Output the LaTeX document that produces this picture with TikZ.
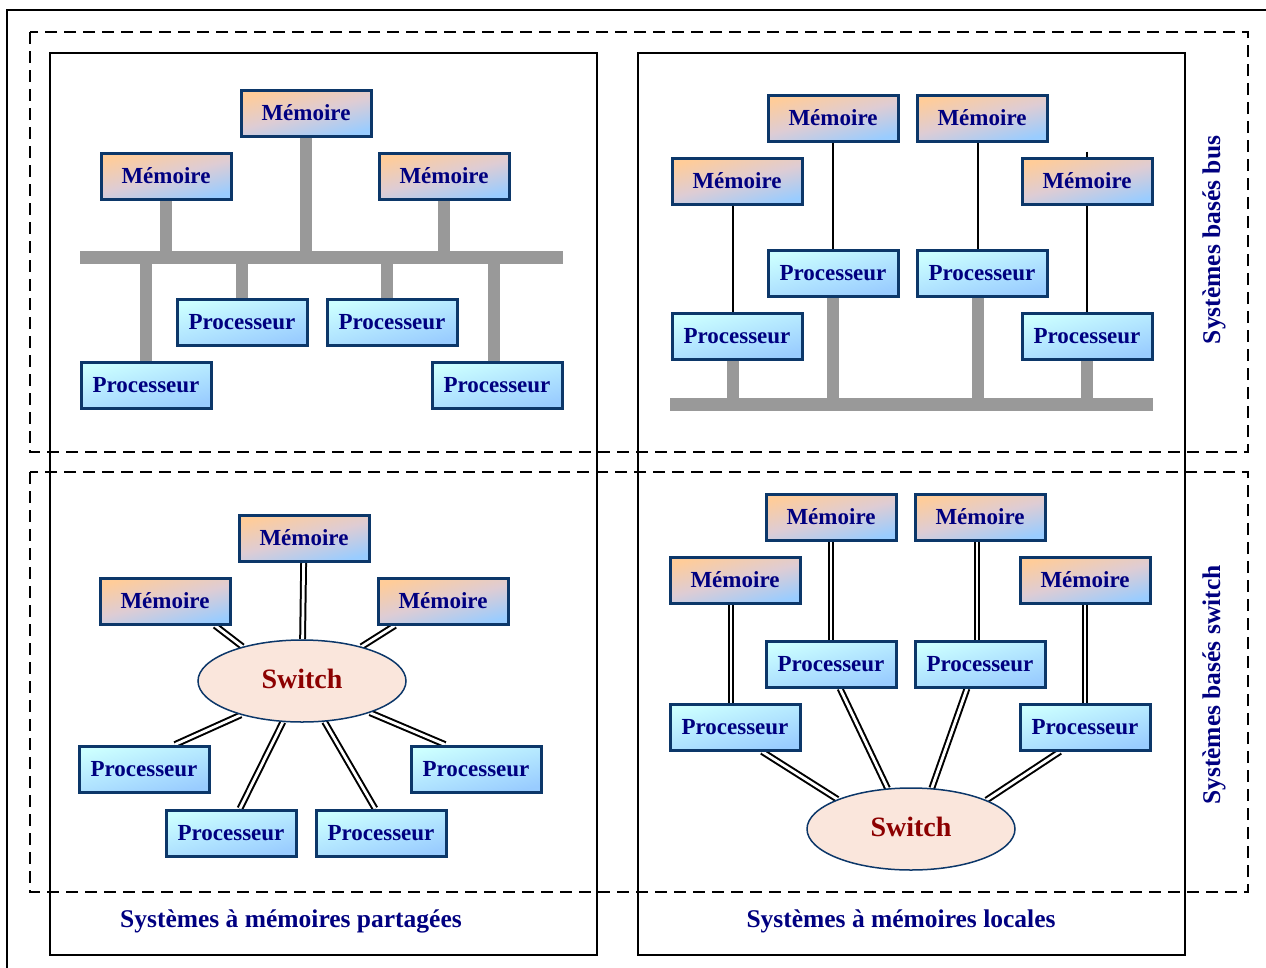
\documentclass[tikz,border=0pt]{standalone}
\usepackage{fontspec}
\setmainfont{Liberation Serif}
\usetikzlibrary{shapes.geometric,backgrounds}

\definecolor{boxblue}{RGB}{12,55,105}
\definecolor{txtnavy}{RGB}{0,0,128}
\definecolor{memtop}{RGB}{255,204,153}
\definecolor{memmid}{RGB}{222,204,212}
\definecolor{procbtm}{RGB}{153,204,255}
\definecolor{proctop}{RGB}{204,255,255}
\definecolor{busgray}{RGB}{153,153,153}
\definecolor{swfill}{RGB}{250,230,220}
\definecolor{swred}{RGB}{140,0,0}

\tikzset{
  unit/.style={draw=boxblue, line width=3pt, minimum width=130pt, minimum height=46pt,
    inner sep=0pt, text=txtnavy, font=\fontsize{23}{27}\selectfont\bfseries},
  mem/.style={unit, top color=memtop, bottom color=procbtm, middle color=memmid, shading angle=14},
  proc/.style={unit, top color=proctop, bottom color=procbtm, shading angle=14},
  switchnode/.style={ellipse, draw=boxblue, line width=1.5pt, fill=swfill,
    minimum width=208pt, minimum height=82pt, inner sep=0pt, text=swred,
    font=\fontsize{28}{32}\selectfont\bfseries},
  busline/.style={busgray, line width=13pt},
  stub/.style={busgray, line width=12pt},
  wire/.style={black, line width=2.2pt},
  dblwire/.style={draw=black, line width=2pt, double=white, double distance=2.8pt},
  frame/.style={line width=2pt},
  dashframe/.style={line width=1.8pt, dash pattern=on 12pt off 7pt},
  caption/.style={text=txtnavy, font=\fontsize{25.5}{30}\selectfont\bfseries, inner sep=0pt}
}

\begin{document}
\begin{tikzpicture}[x=1pt,y=-1pt]
\useasboundingbox (0,0) rectangle (1266,967);

% outer frame (runs off the page on the right and bottom)
\draw[frame] (7,975) -- (7,10) -- (1275,10);

% dashed groupings
\draw[dashframe] (30,32) rectangle (1248,452);
\draw[dashframe] (30,472) rectangle (1248,892);

% the two panels
\draw[frame] (50,53) rectangle (597,955);
\draw[frame] (638,53) rectangle (1185,955);

% ---------- shared memory, bus ----------
\node[mem] (a1) at (306,113) {Mémoire};
\node[mem] (a2) at (166,176) {Mémoire};
\node[mem] (a3) at (444,176) {Mémoire};
\node[proc] (a4) at (242,322) {Processeur};
\node[proc] (a5) at (392,322) {Processeur};
\node[proc] (a6) at (146,385) {Processeur};
\node[proc] (a7) at (497,385) {Processeur};
\coordinate (aL) at (80,257);
\coordinate (aR) at (563,257);
\path ([xshift=-5pt]a5.north) coordinate (a5s)
      ([xshift=-3pt]a7.north) coordinate (a7s);

% ---------- local memory, bus ----------
\node[mem] (b1) at (833,118) {Mémoire};
\node[mem] (b2) at (982,118) {Mémoire};
\node[mem] (b3) at (737,181) {Mémoire};
\node[mem] (b4) at (1087,181) {Mémoire};
\node[proc] (b5) at (833,273) {Processeur};
\node[proc] (b6) at (982,273) {Processeur};
\node[proc] (b7) at (737,336) {Processeur};
\node[proc] (b8) at (1087,336) {Processeur};
\coordinate (bL) at (670,404);
\coordinate (bR) at (1153,404);
\path ([xshift=-4pt]b3.center) coordinate (b3s)
      ([xshift=-4pt]b7.center) coordinate (b7s)
      ([xshift=-4pt]b2.center) coordinate (b2s)
      ([xshift=-4pt]b6.center) coordinate (b6s)
      ([yshift=5pt]b4.north) coordinate (b4s);

% ---------- shared memory, switch ----------
\node[mem] (c1) at (304,538) {Mémoire};
\node[mem] (c2) at (165,601) {Mémoire};
\node[mem] (c3) at (443,601) {Mémoire};
\node[switchnode] (s1) at (302,681) {\raisebox{4pt}{Switch}};
\node[proc] (c4) at (144,769) {Processeur};
\node[proc] (c5) at (476,769) {Processeur};
\node[proc] (c6) at (231,833) {Processeur};
\node[proc] (c7) at (381,833) {Processeur};

% ---------- local memory, switch ----------
\node[mem] (d1) at (831,517) {Mémoire};
\node[mem] (d2) at (980,517) {Mémoire};
\node[mem] (d3) at (735,580) {Mémoire};
\node[mem] (d4) at (1085,580) {Mémoire};
\node[proc] (d5) at (831,664) {Processeur};
\node[proc] (d6) at (980,664) {Processeur};
\node[proc] (d7) at (735,727) {Processeur};
\node[proc] (d8) at (1085,727) {Processeur};
\node[switchnode] (s2) at (911,829) {\raisebox{4pt}{Switch}};
\path ([xshift=-4pt]d3.center) coordinate (d3s)
      ([xshift=-4pt]d7.center) coordinate (d7s)
      ([xshift=-3pt]d2.center) coordinate (d2s)
      ([xshift=-3pt]d6.center) coordinate (d6s);

% ---------- connectors behind the boxes ----------
\begin{scope}[on background layer]
  % bus, shared memory
  \draw[busline] (aL) -- (aR);
  \draw[stub] (a1) -- (a1 |- aL);
  \draw[stub] (a2) -- (a2 |- aL);
  \draw[stub] (a3) -- (a3 |- aL);
  \draw[stub] (a4) -- (a4 |- aL);
  \draw[stub] (a5s) -- (a5s |- aL);
  \draw[stub] (a6) -- (a6 |- aL);
  \draw[stub] (a7s) -- (a7s |- aL);

  % bus, local memory
  \draw[busline] (bL) -- (bR);
  \draw[stub] (b7s) -- (b7s |- bL);
  \draw[stub] (b5) -- (b5 |- bL);
  \draw[stub] (b6s) -- (b6s |- bL);
  \draw[stub] (b8) -- (b8 |- bL);
  \draw[wire] (b3s) -- (b7s);
  \draw[wire] (b1) -- (b5);
  \draw[wire] (b2s) -- (b6s);
  \draw[wire] (b4s) -- (b8);

  % switch, shared memory
  \draw[dblwire] (c1) -- (s1);
  \draw[dblwire] ([xshift=50pt]c2.south) -- (s1.150);
  \draw[dblwire] ([xshift=-48pt]c3.south) -- (s1.30);
  \draw[dblwire] ([xshift=31pt]c4.north) -- (s1.209);
  \draw[dblwire] ([xshift=-31pt]c5.north) -- (s1.335);
  \draw[dblwire] ([xshift=9pt]c6.north) -- (s1.245);
  \draw[dblwire] ([xshift=-6pt]c7.north) -- (s1.299);

  % switch, local memory
  \draw[dblwire] (d3s) -- (d7s);
  \draw[dblwire] (d1) -- (d5);
  \draw[dblwire] (d2s) -- (d6s);
  \draw[dblwire] (d4) -- (d8);
  \draw[dblwire] ([xshift=27pt]d7.south) -- (s2.158);
  \draw[dblwire] ([xshift=9pt]d5.south) -- (s2.120);
  \draw[dblwire] ([xshift=-13pt]d6.south) -- (s2.63);
  \draw[dblwire] ([xshift=-25pt]d8.south) -- (s2.21);
\end{scope}

% ---------- captions ----------
\node[caption] (t1) at (291,921) {Systèmes à mémoires partagées};
\node[caption] (t2) at (901,921) {Systèmes à mémoires locales};
\node[caption, rotate=90] (t3) at (1214,240) {Systèmes basés bus};
\node[caption, rotate=90] (t4) at (1214,685) {Systèmes basés switch};

\end{tikzpicture}
\end{document}
